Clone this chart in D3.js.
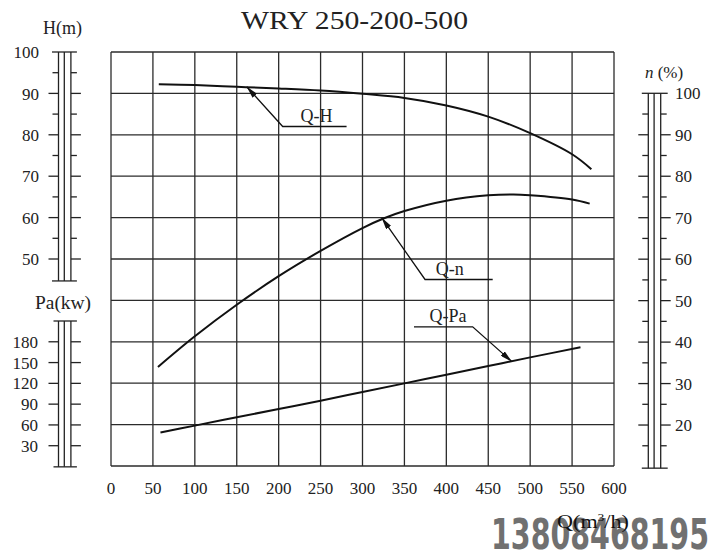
<!DOCTYPE html>
<html><head><meta charset="utf-8">
<script src="https://cdn.jsdelivr.net/npm/d3@7"></script>
<style>body{margin:0;background:#fff}svg{display:block}</style>
</head><body>
<svg id="c" width="710" height="550"></svg>
<script>
// ---- data ----
const title = "WRY 250-200-500";
const qTicks = [0,50,100,150,200,250,300,350,400,450,500,550,600];
const hTicks = [100,90,80,70,60,50];
const hMinor = [95,85,75,65,55];
const paTicks = [180,150,120,90,60,30];
const nTicks = [100,90,80,70,60,50,40,30,20];
const nMinor = [95,85,75,65,55,45,35,25,15];

const qH = [57,100,150,200,250,300,350,400,450,500,550,573];
const hVals = [92.2,92.0,91.6,91.2,90.7,89.9,88.9,87.1,84.4,80.4,75.3,71.7];
const qN = [56,100,150,200,250,300,325,350,400,450,480,500,550,571];
const nVals = [34.0,41.4,49.0,55.9,62.0,67.5,69.8,71.6,74.1,75.4,75.6,75.4,74.4,73.4];
const qPa = [59,100,150,200,250,300,350,400,450,500,560];
const paVals = [49,59,71,83,95,107.5,120,132.5,145,157.5,172];

// ---- scales ----
const svg = d3.select("#c");
const x = d3.scaleLinear().domain([0,600]).range([111,614]);
const yH = d3.scaleLinear().domain([0,100]).range([466,52]);
const yN = d3.scaleLinear().domain([10,100]).range([466.5,93.3]);
const yPa = d3.scaleLinear().domain([0,210]).range([466.5,321]);

const serif = "'Liberation Serif','Times New Roman',serif";
const ink = "#222";

// title
svg.append("text").attr("x",241).attr("y",28.5).text(title)
  .attr("font-family",serif).attr("font-size",25).attr("fill",ink)
  .attr("textLength",227).attr("lengthAdjust","spacingAndGlyphs");

// grid
const g = svg.append("g").attr("stroke","#2b2b2b").attr("stroke-width",1.3).attr("fill","none");
qTicks.forEach(q=>g.append("line").attr("x1",x(q)).attr("x2",x(q)).attr("y1",yH(100)).attr("y2",yH(0)));
d3.range(0,101,10).forEach(h=>g.append("line").attr("x1",x(0)).attr("x2",x(600)).attr("y1",yH(h)).attr("y2",yH(h)));

// x labels
svg.append("g").selectAll("text").data(qTicks).join("text")
  .attr("x",d=>x(d)).attr("y",494).attr("text-anchor","middle").text(d=>d)
  .attr("font-family",serif).attr("font-size",17).attr("fill",ink);

// scale bars
function bar(xl, yTop, yBot, majors, minors, scale, labelSide, labelX, capL, capR){
  const b = svg.append("g").attr("stroke","#222").attr("stroke-width",1.3);
  const xs = [xl, xl+5.8, xl+12.4];
  xs.forEach(v=>b.append("line").attr("x1",v).attr("x2",v).attr("y1",yTop).attr("y2",yBot));
  b.append("line").attr("x1",xs[0]-capL).attr("x2",xs[2]+capR).attr("y1",yTop).attr("y2",yTop);
  b.append("line").attr("x1",xs[0]-capL).attr("x2",xs[2]+capR).attr("y1",yBot).attr("y2",yBot);
  majors.forEach(t=>{const y=scale(t);
    b.append("line").attr("x1",xs[0]-10).attr("x2",xs[0]).attr("y1",y).attr("y2",y);
    b.append("line").attr("x1",xs[2]).attr("x2",xs[2]+10).attr("y1",y).attr("y2",y);});
  minors.forEach(t=>{const y=scale(t);
    b.append("line").attr("x1",xs[0]-6).attr("x2",xs[0]).attr("y1",y).attr("y2",y);
    b.append("line").attr("x1",xs[2]).attr("x2",xs[2]+6).attr("y1",y).attr("y2",y);});
  svg.append("g").selectAll("text").data(majors).join("text")
    .attr("x",labelX).attr("y",d=>scale(d)).attr("dy","0.36em")
    .attr("text-anchor",labelSide).text(d=>d)
    .attr("font-family",serif).attr("font-size",17).attr("fill",ink);
}
bar(58.5, yH(100), yH(44.7), hTicks.slice(1), hMinor, yH, "end", 39, 6.5, 6);
svg.append("g").selectAll("text").data([100]).join("text")
  .attr("x",39).attr("y",yH(100)).attr("dy","0.36em").attr("text-anchor","end").text(d=>d)
  .attr("font-family",serif).attr("font-size",17).attr("fill",ink);
bar(58.5, yPa(210), yPa(-0.5), paTicks, [], yPa, "end", 38, 5, 6);
bar(648.3, yN(100), yN(9.6), nTicks.slice(1), nMinor, yN, "start", 675, 6.5, 7);
svg.append("g").selectAll("text").data([100]).join("text")
  .attr("x",675).attr("y",yN(100)).attr("dy","0.36em").attr("text-anchor","start").text(d=>d)
  .attr("font-family",serif).attr("font-size",17).attr("fill",ink);

// axis titles
svg.append("text").attr("x",62.5).attr("y",34).attr("text-anchor","middle").text("H(m)")
  .attr("font-family",serif).attr("font-size",18).attr("fill",ink);
svg.append("text").attr("x",63).attr("y",309).attr("text-anchor","middle").text("Pa(kw)")
  .attr("font-family",serif).attr("font-size",18).attr("fill",ink)
  .attr("textLength",56).attr("lengthAdjust","spacingAndGlyphs");
const nt = svg.append("text").attr("x",664).attr("y",78).attr("text-anchor","middle")
  .attr("font-family",serif).attr("font-size",17).attr("fill",ink);
nt.append("tspan").attr("font-style","italic").text("n");
nt.append("tspan").text(" (%)");

// curves
const line = (xs,ys,ysc)=>d3.line().curve(d3.curveCatmullRom.alpha(0.5))
  .x((d,i)=>x(xs[i])).y((d,i)=>ysc(ys[i]))(xs);
const cg = svg.append("g").attr("fill","none").attr("stroke","#111").attr("stroke-width",2);
cg.append("path").attr("d",line(qH,hVals,yH));
cg.append("path").attr("d",line(qN,nVals,yN));
cg.append("path").attr("d",line(qPa,paVals,yPa));

// arrow marker
svg.append("defs").append("marker").attr("id","ah").attr("viewBox","0 0 12 6")
  .attr("refX",12).attr("refY",3).attr("markerWidth",12).attr("markerHeight",6)
  .attr("markerUnits","userSpaceOnUse").attr("orient","auto")
  .append("path").attr("d","M0,0 L12,3 L0,6 Z").attr("fill","#111");

// annotations: [path points in data units], label
function annot(pts, ysc, label, lx, ly){
  const p = pts.map(d=>[x(d[0]), ysc(d[1])]);
  svg.append("path").attr("d",d3.line()(p)).attr("fill","none")
    .attr("stroke","#111").attr("stroke-width",1.3).attr("marker-end","url(#ah)");
  svg.append("text").attr("x",x(lx)).attr("y",ysc(ly)).attr("text-anchor","middle").text(label)
    .attr("font-family",serif).attr("font-size",18).attr("fill",ink);
}
annot([[281,82.0],[204.8,82.0],[161.9,91.6]], yH, "Q-H", 245, 83.2);
annot([[455.3,55.1],[374.6,55.1],[322.9,70.0]], yN, "Q-n", 404, 56.2);
annot([[361.4,201.6],[431.4,201.6],[478,151.5]], yPa, "Q-Pa", 402, 208.5);

// watermark and Q label
svg.append("text").attr("x",491).attr("y",548.5).text("13808468195")
  .attr("font-family","'Liberation Sans Narrow','DejaVu Sans Condensed','Liberation Sans',sans-serif")
  .attr("font-weight","bold").attr("font-size",42).attr("fill","#707070")
  .attr("textLength",218).attr("lengthAdjust","spacingAndGlyphs");
const ql = svg.append("text").attr("x",557).attr("y",528)
  .attr("font-family",serif).attr("font-size",18).attr("fill","#111")
  .attr("textLength",72).attr("lengthAdjust","spacingAndGlyphs");
ql.append("tspan").text("Q(m");
ql.append("tspan").attr("font-size",11).attr("dy",-7).text("3");
ql.append("tspan").attr("dy",7).text("/h)");
</script>
</body></html>
